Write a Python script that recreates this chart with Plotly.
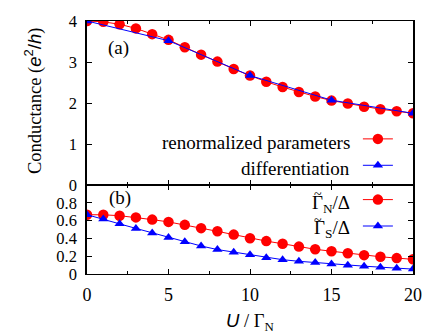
import plotly.graph_objects as go

U_all = list(range(0, 21))
U_diff = [0, 5, 10, 15, 20]

G_renorm = [4.00, 3.98, 3.92, 3.82, 3.68, 3.54, 3.36, 3.18, 3.01, 2.83, 2.67,
            2.52, 2.39, 2.27, 2.16, 2.06, 1.99, 1.91, 1.85, 1.80, 1.75]
G_diff = [4.00, 3.52, 2.67, 2.07, 1.75]

GammaN = [0.667, 0.666, 0.656, 0.637, 0.612, 0.586, 0.553, 0.516, 0.480, 0.443, 0.403,
          0.370, 0.340, 0.308, 0.278, 0.256, 0.234, 0.212, 0.194, 0.179, 0.165]
GammaS = [0.667, 0.619, 0.564, 0.513, 0.462, 0.410, 0.363, 0.315, 0.275, 0.245, 0.216,
          0.183, 0.161, 0.143, 0.128, 0.113, 0.099, 0.088, 0.077, 0.066, 0.055]

x_ticks = [0, 5, 10, 15, 20]
y_top_ticks = [0, 1, 2, 3, 4]
y_bot_ticks = [0, 0.2, 0.4, 0.6, 0.8]

legend_top_labels = ["renormalized parameters", "differentiation"]
legend_bot_labels = ["Γ<sub>N</sub>/Δ", "Γ<sub>S</sub>/Δ"]

RED = "#ff0000"
BLUE = "#0000ff"
SERIF = "Liberation Serif"
SANS = "Liberation Sans"

fig = go.Figure()
fig.add_trace(go.Scatter(x=U_all, y=G_renorm, mode="lines+markers", name=" ",
                         line=dict(color=RED, width=1),
                         marker=dict(symbol="circle", size=10.5, color=RED),
                         xaxis="x", yaxis="y", legend="legend"))
fig.add_trace(go.Scatter(x=U_diff, y=G_diff, mode="lines+markers", name=" ",
                         line=dict(color=BLUE, width=1),
                         marker=dict(symbol="triangle-up", size=9, color=BLUE),
                         xaxis="x", yaxis="y", legend="legend"))
fig.add_trace(go.Scatter(x=U_all, y=GammaN, mode="lines+markers", name=" ",
                         line=dict(color=RED, width=1),
                         marker=dict(symbol="circle", size=10.5, color=RED),
                         xaxis="x2", yaxis="y2", legend="legend2"))
fig.add_trace(go.Scatter(x=U_all, y=GammaS, mode="lines+markers", name=" ",
                         line=dict(color=BLUE, width=1),
                         marker=dict(symbol="triangle-up", size=9, color=BLUE),
                         xaxis="x2", yaxis="y2", legend="legend2"))

split = 91 / 259
axis_common = dict(showline=True, linecolor="black", mirror="allticks",
                   ticks="inside", ticklen=5, tickcolor="black", showgrid=False,
                   zeroline=False)
yfont = dict(family=SERIF, size=16.5, color="black")
xfont = dict(family=SERIF, size=18, color="black")
minor_x = dict(dtick=2.5, ticks="inside", ticklen=3, tickcolor="black")

fig.update_layout(
    width=436, height=336,
    margin=dict(l=87, r=23, t=15, b=62),
    paper_bgcolor="white", plot_bgcolor="white",
    showlegend=True,
    xaxis=dict(domain=[0, 1], range=[0, 20], anchor="y", tickvals=x_ticks, linewidth=1.1,
               showticklabels=False, minor=minor_x, tickfont=xfont, **axis_common),
    yaxis=dict(domain=[split, 1], range=[0, 4], anchor="x", tickvals=y_top_ticks, linewidth=1.6,
               tickfont=yfont, ticklabelstandoff=5, **axis_common),
    xaxis2=dict(domain=[0, 1], range=[0, 20], anchor="y2", tickvals=x_ticks, linewidth=1.1,
                minor=minor_x, tickfont=xfont, ticklabelstandoff=4, **axis_common),
    yaxis2=dict(domain=[0, split], range=[0, 1], anchor="x2", tickvals=y_bot_ticks, linewidth=1.6,
                ticktext=["0", "0.2", "0.4", "0.6", "0.8"], tickfont=yfont, ticklabelstandoff=5,
                **axis_common),
    legend=dict(x=0.831, y=0.606, xanchor="left", yanchor="top", bgcolor="rgba(0,0,0,0)",
                font=dict(family=SERIF, size=18), itemwidth=30, tracegroupgap=0),
    legend2=dict(x=0.831, y=0.366, xanchor="left", yanchor="top", bgcolor="rgba(0,0,0,0)",
                 font=dict(family=SERIF, size=18), itemwidth=30, tracegroupgap=0),
)

ann_font = dict(family=SERIF, size=19, color="black")
legend_text_x = (352 - 87) / 326
for lbl, ypix in zip(legend_top_labels, [139, 166]):
    fig.add_annotation(text=lbl, x=legend_text_x, y=(274 - ypix) / 259, xref="paper", yref="paper",
                       xanchor="right", yanchor="middle", showarrow=False, font=ann_font)
for lbl, ypix in zip(legend_bot_labels, [202, 228]):
    fig.add_annotation(text=lbl, x=legend_text_x, y=(274 - ypix) / 259, xref="paper", yref="paper",
                       xanchor="right", yanchor="middle", showarrow=False, font=ann_font)
    # tilde accent over the Gamma
    fig.add_annotation(text="~", x=(318 - 87) / 326, y=(274 - (ypix - 9)) / 259,
                       xref="paper", yref="paper", xanchor="center", yanchor="middle",
                       showarrow=False, font=dict(family=SERIF, size=14, color="black"))

fig.add_annotation(text="(a)", x=(118 - 87) / 326, y=(274 - 43) / 259, xref="paper", yref="paper",
                   xanchor="center", yanchor="middle", showarrow=False, font=ann_font)
fig.add_annotation(text="(b)", x=(120 - 87) / 326, y=(274 - 196) / 259, xref="paper", yref="paper",
                   xanchor="center", yanchor="middle", showarrow=False, font=ann_font)

fig.add_annotation(
    text=f"Conductance (<span style='font-family:{SANS}'><i>e</i><sup>2</sup>/<i>h</i></span>)",
    x=(33 - 87) / 326, y=(274 - 97) / 259, xref="paper", yref="paper", textangle=-90,
    xanchor="center", yanchor="middle", showarrow=False, font=dict(family=SERIF, size=18.5, color="black"))
fig.add_annotation(
    text=f"<span style='font-family:{SANS}'><i>U</i></span> / Γ<sub>N</sub>",
    x=0.5, y=(274 - 323) / 259, xref="paper", yref="paper",
    xanchor="center", yanchor="middle", showarrow=False, font=dict(family=SERIF, size=18.5, color="black"))

fig.write_html("out.html", config={"displayModeBar": False},
               post_script="document.body.style.margin='0';document.body.style.padding='0';")
